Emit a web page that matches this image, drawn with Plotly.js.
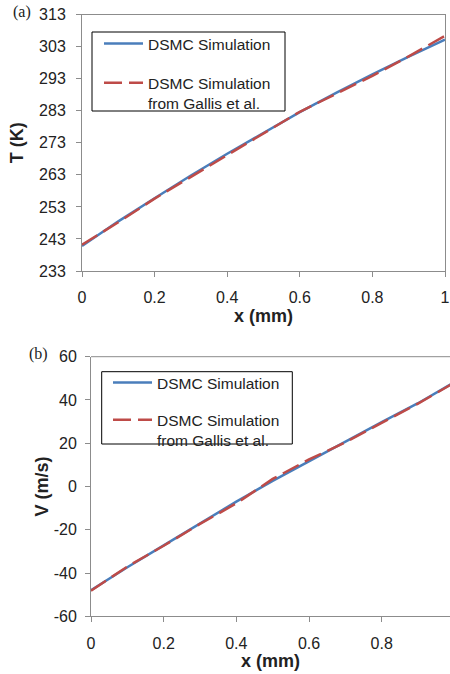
<!DOCTYPE html>
<html>
<head>
<meta charset="utf-8">
<script src="https://cdn.plot.ly/plotly-3.0.1.min.js"></script>
<style>html,body{margin:0;padding:0;background:#fff;}#chart{width:450px;height:674px;}</style>
</head>
<body>
<div id="chart"></div>
<script>
// ---- data ----
const xPos = [0, 0.1, 0.2, 0.3, 0.4, 0.5, 0.6, 0.7, 0.8, 0.9, 1.0];
const tempDSMC   = [240.8, 248.5, 255.7, 262.8, 269.6, 276.2, 282.6, 288.6, 294.4, 299.9, 305.2];
const tempGallis = [241.2, 248.2, 255.6, 262.4, 269.2, 276.0, 282.7, 288.3, 293.9, 300.0, 306.4];
const velDSMC    = [-47.9, -37.3, -27.2, -17.0, -7.0, 2.6, 11.7, 20.8, 29.8, 38.5, 48.2];
const velGallis  = [-48.2, -37.0, -27.4, -17.3, -7.8, 3.5, 12.5, 20.4, 29.4, 38.3, 48.0];

const tTicks = [233, 243, 253, 263, 273, 283, 293, 303, 313];
const vTicks = [-60, -40, -20, 0, 20, 40, 60];
const vTickText = ['-60', '-40', '-20', '0', '20', '40', '60'];
const seriesNames = ['DSMC Simulation', 'DSMC Simulation<br>from Gallis et al.'];

const blue = '#4a7ebb';
const red = '#be4b48';
const axisGray = '#8c8c8c';
const font = 'Liberation Sans, Arial, sans-serif';

const traces = [
  {x: xPos, y: tempDSMC, name: seriesNames[0], mode: 'lines', xaxis: 'x', yaxis: 'y',
   line: {color: blue, width: 2.5}, legend: 'legend', legendgroup: 'a1'},
  {x: xPos, y: tempGallis, name: seriesNames[1], mode: 'lines', xaxis: 'x', yaxis: 'y',
   line: {color: red, width: 2.5, dash: '18px,7px'}, legend: 'legend', legendgroup: 'a2'},
  {x: xPos, y: velDSMC, name: seriesNames[0], mode: 'lines', xaxis: 'x2', yaxis: 'y2',
   line: {color: blue, width: 2.5}, legend: 'legend2', legendgroup: 'b1'},
  {x: xPos, y: velGallis, name: seriesNames[1], mode: 'lines', xaxis: 'x2', yaxis: 'y2',
   line: {color: red, width: 2.5, dash: '18px,7px'}, legend: 'legend2', legendgroup: 'b2'}
];

const H = 674, W = 450;
const py = p => 1 - p / H;
const px = p => p / W;

const baseAxis = {
  showgrid: false, zeroline: false, showline: true, linecolor: axisGray, linewidth: 1,
  ticks: 'outside', ticklen: 5, tickcolor: axisGray, tickwidth: 1,
  tickfont: {family: font, size: 16, color: '#222'},
  fixedrange: true
};
const titleFont = {family: font, size: 18, color: '#222'};

const legendBase = {
  bgcolor: 'rgba(0,0,0,0)', borderwidth: 0,
  font: {family: font, size: 15.5, color: '#222'},
  xanchor: 'left', yanchor: 'top', valign: 'top',
  traceorder: 'grouped', itemwidth: 39
};

const layout = {
  width: W, height: H,
  margin: {l: 0, r: 0, t: 0, b: 0},
  paper_bgcolor: '#fff', plot_bgcolor: '#fff',
  showlegend: true,
  xaxis: Object.assign({}, baseAxis, {
    domain: [px(82), px(445)], anchor: 'y', range: [0, 1], dtick: 0.2, tick0: 0,
    mirror: true, ticklabelstandoff: 7,
    title: {text: '<b>x (mm)</b>', font: titleFont, standoff: 3}
  }),
  yaxis: Object.assign({}, baseAxis, {
    domain: [py(271), py(14.7)], anchor: 'x', range: [233, 313], tickvals: tTicks,
    mirror: true, ticklabelstandoff: 7,
    title: {text: '<b>T (K)</b>', font: titleFont, standoff: 10}
  }),
  xaxis2: Object.assign({}, baseAxis, {
    domain: [px(91), 1], anchor: 'y2', range: [0, 0.988], dtick: 0.2, tick0: 0,
    mirror: false, ticklabelstandoff: 7,
    title: {text: '<b>x (mm)</b>', font: titleFont, standoff: 0}
  }),
  yaxis2: Object.assign({}, baseAxis, {
    domain: [py(616.3), py(356.7)], anchor: 'x2', range: [-60, 60],
    tickvals: vTicks, ticktext: vTickText, ticklabelstandoff: 5,
    title: {text: '<b>V (m/s)</b>', font: titleFont, standoff: 0}
  }),
  legend: Object.assign({}, legendBase, {x: px(99), y: py(27), tracegroupgap: 16}),
  legend2: Object.assign({}, legendBase, {x: px(108), y: py(366), tracegroupgap: 14}),
  shapes: [
    // top border of lower panel (plot frame)
    {type: 'line', xref: 'x2 domain', yref: 'y2 domain', x0: 0, x1: 1, y0: 1, y1: 1,
     line: {color: axisGray, width: 1}},
    // legend frames
    {type: 'rect', xref: 'paper', yref: 'paper', layer: 'above',
     x0: px(92), x1: px(285), y0: py(111), y1: py(32),
     line: {color: '#000', width: 1}, fillcolor: '#fff'},
    {type: 'rect', xref: 'paper', yref: 'paper', layer: 'above',
     x0: px(101.7), x1: px(292.3), y0: py(444), y1: py(371.7),
     line: {color: '#000', width: 1}, fillcolor: '#fff'}
  ],
  annotations: [
    {text: '(a)', xref: 'paper', yref: 'paper', x: px(11), y: py(1), xanchor: 'left', yanchor: 'top',
     showarrow: false, font: {family: 'Liberation Serif, Times New Roman, serif', size: 16, color: '#222'}},
    {text: '(b)', xref: 'paper', yref: 'paper', x: px(27), y: py(343), xanchor: 'left', yanchor: 'top',
     showarrow: false, font: {family: 'Liberation Serif, Times New Roman, serif', size: 16, color: '#222'}}
  ]
};

Plotly.newPlot('chart', traces, layout, {staticPlot: true, displayModeBar: false});
</script>
</body>
</html>
